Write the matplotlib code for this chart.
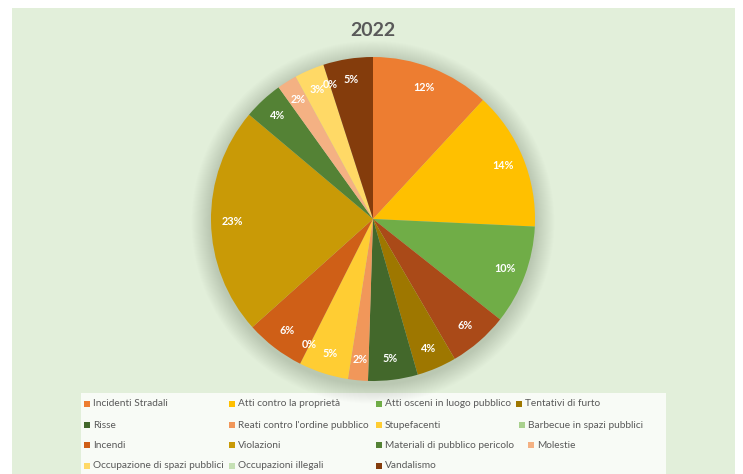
import matplotlib.pyplot as plt
import matplotlib.patches as patches

plt.rcParams['font.family'] = ['Lato', 'DejaVu Sans']

title = "2022"

# slice names in drawing order; the blank one has no legend entry
categories = [
    "Incidenti Stradali", "Atti contro la proprietà", "Atti osceni in luogo pubblico", "",
    "Tentativi di furto", "Risse", "Reati contro l'ordine pubblico", "Stupefacenti",
    "Barbecue in spazi pubblici", "Incendi", "Violazioni", "Materiali di pubblico pericolo",
    "Molestie", "Occupazione di spazi pubblici", "Occupazioni illegali", "Vandalismo",
]
values = [12, 14, 10, 6, 4, 5, 2, 5, 0, 6, 23, 4, 2, 3, 0, 5]
colors = [
    "#ED7D31", "#FFC000", "#70AD47", "#AA4A18",
    "#9E7700", "#43682B", "#F1975A", "#FFCD33",
    "#A9D18E", "#CF5F17", "#C99A06", "#548235",
    "#F4B183", "#FFD966", "#C5E0B4", "#843C0C",
]

W, H = 743, 474
fig = plt.figure(figsize=(W / 100, H / 100), dpi=100)
fig.patch.set_facecolor("white")

# background layer in pixel units (y down)
bg = fig.add_axes([0, 0, 1, 1])
bg.set_xlim(0, W)
bg.set_ylim(H, 0)
bg.axis("off")
bg.add_patch(patches.Rectangle((12, 8), 723, 470, facecolor="#E2EFDA", edgecolor="none"))
bg.add_patch(patches.Rectangle((81, 393), 585, 90, facecolor="#F8FBF6", edgecolor="none"))
bg.text(373, 30, title, ha="center", va="center", fontsize=14, fontweight="bold", color="#595959")

# legend laid out in rows of four; the last column shifts with the row's text
col_x = [87, 232, 379]
last_col_x = [519, 522, 531, 531]
row_y = [404, 425, 445, 466]
legend_items = [(c, col) for c, col in zip(categories, colors) if c]
for i, (name, col) in enumerate(legend_items):
    row, c = divmod(i, 4)
    x = col_x[c] if c < 3 else last_col_x[row]
    y = row_y[row]
    bg.add_patch(patches.Rectangle((x - 3, y - 3), 6, 6, facecolor=col, edgecolor="none"))
    bg.text(x + 6, y, name, ha="left", va="center", fontsize=7.3, color="#595959")

# pie
cx, cy, r = 373, 219, 162
ax = fig.add_axes([(cx - r) / W, (H - cy - r) / H, 2 * r / W, 2 * r / H])
ax.set_facecolor("none")

# soft shadow around the pie
for k in range(20):
    rad = 1.0 + 0.006 * (k + 1)
    ax.add_patch(patches.Circle((0, -0.02), rad, facecolor="#2f4a28", edgecolor="none",
                                alpha=0.009, clip_on=False, zorder=0))

wedges, texts, autotexts = ax.pie(
    values, colors=colors, startangle=90, counterclock=False,
    autopct="%1.0f%%", pctdistance=0.87, radius=1,
    wedgeprops=dict(linewidth=0),
    textprops=dict(color="white", fontsize=7.8, fontweight="bold"),
)
for w in wedges:
    w.set_zorder(2)
for t in autotexts:
    t.set_zorder(3)
ax.set_xlim(-1, 1)
ax.set_ylim(-1, 1)
ax.axis("off")

fig.savefig("out.png", dpi=100)
